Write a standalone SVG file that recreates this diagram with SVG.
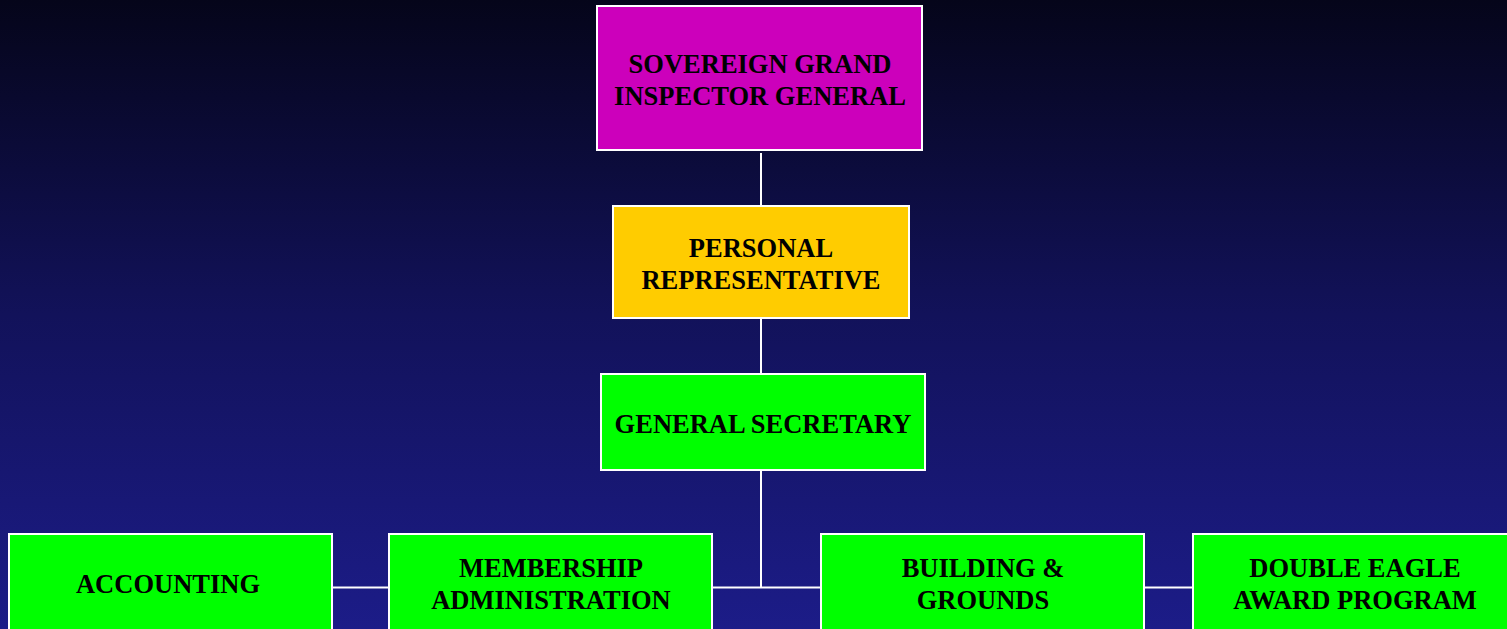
<svg xmlns="http://www.w3.org/2000/svg" width="1507" height="629" viewBox="0 0 1507 629">
<defs>
<linearGradient id="bg" x1="0" y1="0" x2="0" y2="1">
<stop offset="0" stop-color="#05051a"/>
<stop offset="0.5" stop-color="#12125a"/>
<stop offset="1" stop-color="#1c1c88"/>
</linearGradient>
</defs>
<style>
.box{stroke:#ffffff;stroke-width:2}
.lbl{font-family:"Liberation Serif","Times New Roman",serif;font-weight:bold;font-size:26.5px;fill:#000000;text-anchor:middle}
.conn{stroke:#ffffff;stroke-width:2;fill:none}
</style>
<rect x="0" y="0" width="1507" height="629" fill="url(#bg)"/>
<g id="connectors">
<line class="conn" x1="761" y1="153" x2="761" y2="206"/>
<line class="conn" x1="761" y1="318" x2="761" y2="374"/>
<line class="conn" x1="761" y1="470" x2="761" y2="587"/>
<line class="conn" x1="333" y1="587.5" x2="1193" y2="587.5"/>
</g>
<g id="sgig">
<rect class="box" x="597" y="6" width="325" height="144" fill="#cc00bb"/>
<text class="lbl" x="760" y="73">SOVEREIGN GRAND</text>
<text class="lbl" x="760" y="105">INSPECTOR GENERAL</text>
</g>
<g id="personal-rep">
<rect class="box" x="613" y="206" width="296" height="112" fill="#ffcc00"/>
<text class="lbl" x="761" y="257">PERSONAL</text>
<text class="lbl" x="761" y="289">REPRESENTATIVE</text>
</g>
<g id="general-secretary">
<rect class="box" x="601" y="374" width="324" height="96" fill="#00ff00"/>
<text class="lbl" x="763" y="433">GENERAL SECRETARY</text>
</g>
<g id="accounting">
<rect class="box" x="9" y="534" width="323" height="100" fill="#00ff00"/>
<text class="lbl" x="168" y="593">ACCOUNTING</text>
</g>
<g id="membership">
<rect class="box" x="389" y="534" width="323" height="100" fill="#00ff00"/>
<text class="lbl" x="551" y="577">MEMBERSHIP</text>
<text class="lbl" x="551" y="609">ADMINISTRATION</text>
</g>
<g id="building">
<rect class="box" x="821" y="534" width="323" height="100" fill="#00ff00"/>
<text class="lbl" x="983" y="577">BUILDING &amp;</text>
<text class="lbl" x="983" y="609">GROUNDS</text>
</g>
<g id="double-eagle">
<rect class="box" x="1193" y="534" width="323" height="100" fill="#00ff00"/>
<text class="lbl" x="1355" y="577">DOUBLE EAGLE</text>
<text class="lbl" x="1355" y="609">AWARD PROGRAM</text>
</g>
</svg>
